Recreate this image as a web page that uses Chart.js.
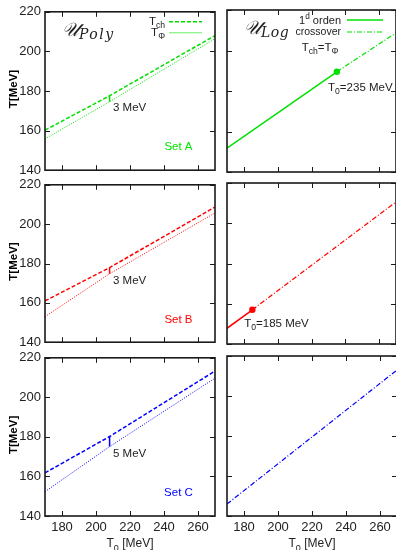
<!DOCTYPE html>
<html>
<head>
<meta charset="utf-8">
<script src="https://cdn.jsdelivr.net/npm/chart.js@4.4.0/dist/chart.umd.min.js"></script>
<style>
  html, body { margin: 0; padding: 0; background: #fff; overflow: hidden; width: 396px; height: 550px; }
  body { position: relative; }
  canvas { position: absolute; }
</style>
</head>
<body>
<canvas id="polyA" width="220" height="182" style="left:0;top:0"></canvas>
<canvas id="logA" width="180" height="182" style="left:220px;top:0"></canvas>
<canvas id="polyB" width="220" height="181" style="left:0;top:173px"></canvas>
<canvas id="logB" width="180" height="181" style="left:220px;top:173px"></canvas>
<canvas id="polyC" width="220" height="204" style="left:0;top:346px"></canvas>
<canvas id="logC" width="180" height="204" style="left:220px;top:346px"></canvas>
<script>
// axis ticks
var t0Ticks = [180, 200, 220, 240, 260];
var tTicks = [140, 160, 180, 200, 220];

// Polyakov potential: T_ch and T_Phi vs T0
var polyT0 = [170, 208, 270];
var tchA = [160.2, 177.6, 208.0];
var tphiA = [155.8, 174.6, 206.4];
var tchB = [161.0, 177.9, 208.7];
var tphiB = [153.0, 174.8, 205.7];
var tchC = [161.8, 180.2, 213.3];
var tphiC = [152.3, 175.1, 209.7];
var gapLabels = ['3 MeV', '3 MeV', '5 MeV'];
var setLabels = ['Set A', 'Set B', 'Set C'];

// logarithmic potential: first order branch, crossover branch, CEP
var firstT0A = [170, 235];
var firstA = [151.8, 189.5];
var crossT0A = [235, 270];
var crossA = [189.5, 208.7];
var firstT0B = [170, 185];
var firstB = [147.8, 157.0];
var crossT0B = [185, 270];
var crossB = [157.0, 210.6];
var crossT0C = [170, 270];
var crossC = [146.0, 213.0];
var cepT0 = [235, 185];
var cepT = [189.5, 157.0];

var GREEN = '#00e000', RED = '#ff0000', BLUE = '#0000ff';
var FONT = "'Liberation Sans', Arial, sans-serif";

function line(xs, ys, color, dash, width) {
  return {
    data: xs.map(function (x, i) { return { x: x, y: ys[i] }; }),
    borderColor: color, backgroundColor: color, borderDash: dash,
    borderWidth: width, pointRadius: 0, tension: 0, fill: false
  };
}

function dot(x, y, color) {
  return {
    data: [{ x: x, y: y }], showLine: false,
    pointRadius: 3.2, pointBorderWidth: 0,
    pointBackgroundColor: color, borderColor: color
  };
}

// text with sub/superscripts: parts = [[text, 0 normal | 1 sub | 2 sup], ...]
function rich(ctx, parts, x, y, size, align, color) {
  var w = 0;
  parts.forEach(function (p) {
    ctx.font = (p[1] ? size * 0.75 : size) + 'px ' + FONT;
    w += ctx.measureText(p[0]).width;
  });
  var cx = align === 'right' ? x - w : align === 'center' ? x - w / 2 : x;
  ctx.fillStyle = color;
  ctx.textAlign = 'left';
  ctx.textBaseline = 'alphabetic';
  parts.forEach(function (p) {
    var s = p[1] ? size * 0.75 : size;
    ctx.font = s + 'px ' + FONT;
    var dy = p[1] === 1 ? size * 0.3 : p[1] === 2 ? -size * 0.45 : 0;
    ctx.fillText(p[0], cx, y + dy);
    cx += ctx.measureText(p[0]).width;
  });
}

function sample(ctx, x1, x2, y, color, dash, width) {
  ctx.save();
  ctx.strokeStyle = color;
  ctx.lineWidth = width;
  ctx.setLineDash(dash);
  ctx.beginPath();
  ctx.moveTo(x1, y);
  ctx.lineTo(x2, y);
  ctx.stroke();
  ctx.restore();
}

var decor = {
  id: 'decor',
  afterDatasetsDraw: function (chart, args, o) {
    var ctx = chart.ctx, a = chart.chartArea;
    var xs = chart.scales.x, ys = chart.scales.y;
    ctx.save();
    // frame + inward ticks
    ctx.strokeStyle = '#1a1a1a';
    ctx.lineWidth = 1.6;
    ctx.strokeRect(a.left, a.top, a.right - a.left, a.bottom - a.top);
    ctx.lineWidth = 1;
    ctx.beginPath();
    t0Ticks.forEach(function (v) {
      var px = Math.round(xs.getPixelForValue(v)) + 0.5;
      ctx.moveTo(px, a.bottom); ctx.lineTo(px, a.bottom - 5);
      ctx.moveTo(px, a.top); ctx.lineTo(px, a.top + 5);
    });
    tTicks.forEach(function (v) {
      var py = Math.round(ys.getPixelForValue(v)) + 0.5;
      ctx.moveTo(a.left, py); ctx.lineTo(a.left + 5, py);
      ctx.moveTo(a.right, py); ctx.lineTo(a.right - 5, py);
    });
    ctx.stroke();

    // y title on left column
    if (o.left) {
      ctx.save();
      ctx.translate(14, (a.top + a.bottom) / 2 - 2);
      ctx.rotate(-Math.PI / 2);
      ctx.font = 'bold 11.5px ' + FONT;
      ctx.fillStyle = '#000';
      ctx.textAlign = 'center';
      ctx.textBaseline = 'middle';
      ctx.fillText('T[MeV]', 0, 0);
      ctx.restore();
    }
    // x title on bottom row
    if (o.bottom) {
      rich(ctx, [['T', 0], ['0', 1], [' [MeV]', 0]], (a.left + a.right) / 2, a.bottom + 31, 12, 'center', '#222');
    }
    // model name
    if (o.model) {
      ctx.fillStyle = '#222';
      ctx.textAlign = 'left';
      ctx.textBaseline = 'alphabetic';
      ctx.font = "italic 19px 'DejaVu Serif', serif";
      ctx.fillText('\uD835\uDCB0', a.left + 17, a.top + 24);
      var uw = ctx.measureText('\uD835\uDCB0').width;
      ctx.font = "italic 14px 'DejaVu Serif', serif";
      ctx.letterSpacing = o.model === 'Log' ? '0.5px' : '1.5px';
      ctx.fillText(o.model, a.left + 17 + uw, a.top + 27);
      ctx.letterSpacing = '0px';
    }
    // gap label and set label
    if (o.gap) {
      rich(ctx, [[o.gap, 0]], xs.getPixelForValue(210), ys.getPixelForValue(171.7) + 4, 11.5, 'left', '#222');
    }
    if (o.set) {
      rich(ctx, [[o.set, 0]], xs.getPixelForValue(248.5), ys.getPixelForValue(152) + 4, 11.5, 'center', o.color);
    }
    if (o.cep) {
      rich(ctx, [['T', 0], ['0', 1], ['=' + o.cep[0] + ' MeV', 0]],
        xs.getPixelForValue(o.cep[1]), ys.getPixelForValue(o.cep[2]) + 4, 11.5, 'left', '#222');
    }
    // legends
    if (o.legendPoly) {
      rich(ctx, [['T', 0], ['ch', 1]], a.left + 120, a.top + 13, 11.5, 'right', '#222');
      sample(ctx, a.left + 124, a.left + 157, a.top + 10, GREEN, [4, 2], 1.5);
      rich(ctx, [['T', 0], ['\u03A6', 1]], a.left + 120, a.top + 24, 11.5, 'right', '#222');
      sample(ctx, a.left + 124, a.left + 157, a.top + 21, '#66ee66', [], 1);
    }
    if (o.legendLog) {
      rich(ctx, [['1', 0], ['d', 2], [' orden', 0]], a.left + 114, a.top + 14, 11, 'right', '#222');
      sample(ctx, a.left + 120, a.left + 156, a.top + 10, GREEN, [], 1.5);
      rich(ctx, [['crossover', 0]], a.left + 114, a.top + 25, 10.5, 'right', '#222');
      sample(ctx, a.left + 120, a.left + 156, a.top + 22, GREEN, [5, 2, 1, 2], 1.2);
      rich(ctx, [['T', 0], ['ch', 1], ['=T', 0], ['\u03A6', 1]], a.left + 93, a.top + 41, 11.5, 'center', '#222');
    }
    ctx.restore();
  }
};

function panel(id, col, row, datasets, extra) {
  var left = col === 0, bottom = row === 2;
  extra.left = left;
  extra.bottom = bottom;
  return new Chart(document.getElementById(id), {
    type: 'line',
    data: { datasets: datasets },
    options: {
      responsive: false,
      animation: false,
      events: [],
      layout: { padding: { left: left ? 0 : 7, right: left ? 5 : 3, top: 10, bottom: bottom ? 0 : 10 } },
      plugins: { legend: { display: false }, tooltip: { enabled: false }, decor: extra },
      scales: {
        x: {
          type: 'linear', min: 170, max: 270,
          afterBuildTicks: function (s) { s.ticks = t0Ticks.map(function (v) { return { value: v }; }); },
          afterFit: function (s) { s.height = bottom ? 34 : 0; },
          grid: { display: false, drawTicks: false }, border: { display: false },
          ticks: { display: bottom, padding: 4, color: '#222', font: { family: FONT, size: 13 }, maxRotation: 0, autoSkip: false }
        },
        y: {
          type: 'linear', min: 140, max: 220,
          afterBuildTicks: function (s) { s.ticks = tTicks.map(function (v) { return { value: v }; }); },
          afterFit: function (s) { s.width = left ? 45 : 0; },
          grid: { display: false, drawTicks: false }, border: { display: false },
          ticks: { display: left, padding: 4, color: '#222', font: { family: FONT, size: 13 } }
        }
      }
    },
    plugins: [decor]
  });
}

function polySets(tch, tphi, color) {
  var gap = line([polyT0[1], polyT0[1]], [tphi[1], tch[1]], color, [], 1.5);
  return [line(polyT0, tch, color, [4, 2], 1.5), line(polyT0, tphi, color, [1, 1.5], 1), gap];
}

panel('polyA', 0, 0, polySets(tchA, tphiA, GREEN), { model: 'Poly', gap: gapLabels[0], set: setLabels[0], color: GREEN, legendPoly: true });
panel('polyB', 0, 1, polySets(tchB, tphiB, RED), { gap: gapLabels[1], set: setLabels[1], color: RED });
panel('polyC', 0, 2, polySets(tchC, tphiC, BLUE), { gap: gapLabels[2], set: setLabels[2], color: BLUE });

panel('logA', 1, 0, [
  line(firstT0A, firstA, GREEN, [], 1.5),
  line(crossT0A, crossA, GREEN, [5, 2, 1, 2], 1.2),
  dot(cepT0[0], cepT[0], GREEN)
], { model: 'Log', legendLog: true, cep: [cepT0[0], 229.8, 182.1] });
panel('logB', 1, 1, [
  line(firstT0B, firstB, RED, [], 1.5),
  line(crossT0B, crossB, RED, [5, 2, 1, 2], 1.2),
  dot(cepT0[1], cepT[1], RED)
], { cep: [cepT0[1], 180.2, 150.6] });
panel('logC', 1, 2, [
  line(crossT0C, crossC, BLUE, [5, 2, 1, 2], 1.2)
], {});
</script>
</body>
</html>
